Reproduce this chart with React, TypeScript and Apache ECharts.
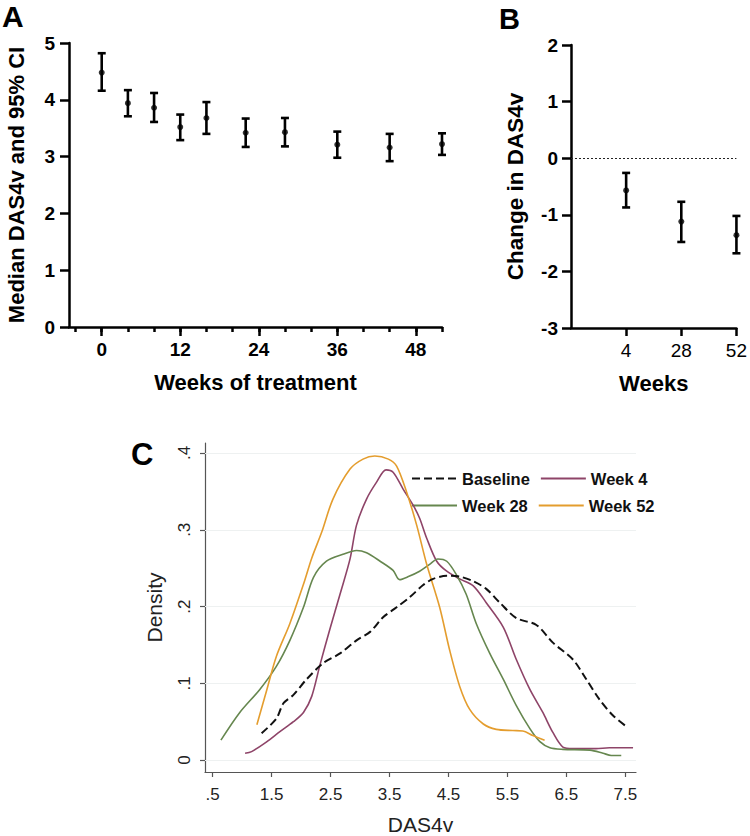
import React, { useEffect, useRef } from "react";
import * as echarts from "echarts";

// ---------- Panel A ----------
const weeksA = [0, 4, 8, 12, 16, 22, 28, 36, 44, 52];
const medianA = [4.48, 3.94, 3.86, 3.52, 3.68, 3.42, 3.43, 3.21, 3.16, 3.22];
const lowerA = [4.16, 3.71, 3.61, 3.29, 3.40, 3.17, 3.18, 2.98, 2.92, 3.03];
const upperA = [4.82, 4.17, 4.12, 3.74, 3.96, 3.67, 3.68, 3.44, 3.40, 3.41];
const minorTicksA = [-4, 0, 4, 8, 12, 16, 20, 24, 28, 32, 36, 40, 44, 48, 52];
const majorTicksA = [0, 12, 24, 36, 48];

// ---------- Panel B ----------
const weeksB = [4, 28, 52];
const changeB = [-0.57, -1.12, -1.36];
const lowerB = [-0.87, -1.48, -1.68];
const upperB = [-0.26, -0.77, -1.02];

// ---------- Panel C ----------
const ticksCx = [0.5, 1.5, 2.5, 3.5, 4.5, 5.5, 6.5, 7.5];
const ticksCy = [0, 0.1, 0.2, 0.3, 0.4];

const baselineX = [1.33, 1.58, 1.7, 1.87, 2.09, 2.37, 2.66, 2.94, 3.17, 3.39, 3.62, 3.84, 4.07, 4.24, 4.47, 4.69, 4.92, 5.14, 5.37, 5.65, 5.99, 6.27, 6.61, 6.84, 7.06, 7.29, 7.53];
const baselineY = [0.035, 0.054, 0.074, 0.085, 0.105, 0.126, 0.139, 0.156, 0.167, 0.186, 0.199, 0.212, 0.228, 0.236, 0.240, 0.239, 0.233, 0.223, 0.205, 0.185, 0.176, 0.153, 0.131, 0.105, 0.079, 0.058, 0.043];

const week4X = [1.05, 1.16, 1.42, 1.64, 1.87, 2.04, 2.18, 2.32, 2.49, 2.66, 2.83, 2.94, 3.11, 3.28, 3.44, 3.56, 3.73, 3.9, 4.01, 4.13, 4.3, 4.47, 4.69, 4.92, 5.14, 5.43, 5.65, 5.88, 6.1, 6.27, 6.44, 6.61, 7.0, 7.23, 7.63];
const week4Y = [0.009, 0.011, 0.024, 0.037, 0.050, 0.062, 0.083, 0.124, 0.171, 0.216, 0.262, 0.306, 0.340, 0.362, 0.378, 0.375, 0.353, 0.332, 0.315, 0.289, 0.259, 0.246, 0.236, 0.227, 0.205, 0.173, 0.131, 0.092, 0.062, 0.036, 0.017, 0.015, 0.015, 0.016, 0.016];

const week28X = [0.64, 0.96, 1.30, 1.58, 1.81, 2.04, 2.21, 2.43, 2.71, 2.94, 3.11, 3.34, 3.56, 3.67, 3.82, 4.01, 4.18, 4.32, 4.47, 4.63, 4.80, 4.97, 5.2, 5.43, 5.65, 5.88, 6.05, 6.22, 6.44, 6.9, 7.12, 7.26, 7.43];
const week28Y = [0.026, 0.062, 0.092, 0.122, 0.156, 0.199, 0.238, 0.259, 0.268, 0.273, 0.270, 0.259, 0.247, 0.235, 0.239, 0.246, 0.255, 0.262, 0.259, 0.242, 0.216, 0.178, 0.139, 0.105, 0.071, 0.041, 0.024, 0.016, 0.014, 0.013, 0.009, 0.006, 0.006];

const week52X = [1.25, 1.42, 1.58, 1.81, 2.04, 2.18, 2.35, 2.54, 2.83, 3.05, 3.25, 3.48, 3.62, 3.79, 3.96, 4.13, 4.35, 4.52, 4.69, 4.86, 5.09, 5.31, 5.59, 5.76, 5.93, 6.13];
const week52Y = [0.046, 0.092, 0.135, 0.178, 0.229, 0.263, 0.297, 0.340, 0.379, 0.392, 0.396, 0.392, 0.383, 0.349, 0.306, 0.255, 0.199, 0.143, 0.096, 0.066, 0.047, 0.040, 0.0385, 0.038, 0.032, 0.026];

const FONT = "Liberation Sans, Arial, Helvetica, sans-serif";

function pairs(xs: number[], ys: number[]) {
  return xs.map((x, i) => [x, ys[i]]);
}

function errRender(capHalf: number, lw: number) {
  return (params: any, api: any) => {
    const x = api.value(0);
    const lo = api.value(1);
    const hi = api.value(2);
    const pHi = api.coord([x, hi]);
    const pLo = api.coord([x, lo]);
    const style = { stroke: "#000", lineWidth: lw, fill: null };
    return {
      type: "group",
      children: [
        { type: "line", shape: { x1: pHi[0], y1: pHi[1], x2: pLo[0], y2: pLo[1] }, style },
        { type: "line", shape: { x1: pHi[0] - capHalf, y1: pHi[1], x2: pHi[0] + capHalf, y2: pHi[1] }, style },
        { type: "line", shape: { x1: pLo[0] - capHalf, y1: pLo[1], x2: pLo[0] + capHalf, y2: pLo[1] }, style },
      ],
    };
  };
}

const boldLabel = { fontFamily: FONT, fontWeight: "bold" as const, fontSize: 19, color: "#000" };
const blackLine = { color: "#000", width: 2.5 };

export default function App() {
  const ref = useRef<HTMLDivElement>(null);
  useEffect(() => {
    document.body.style.margin = "0";
    const chart = echarts.init(ref.current!, undefined, { renderer: "svg" });
    const fmtC = (v: number) => {
      const s = String(Math.round(v * 10) / 10);
      return s.startsWith("0.") ? s.slice(1) : s;
    };
    const option: any = {
      animation: false,
      backgroundColor: "#fff",
      textStyle: { fontFamily: FONT },
      grid: [
        { left: 69, top: 43, width: 373, height: 284 },
        { left: 571, top: 45, width: 170, height: 283 },
        { left: 205, top: 443, width: 431, height: 334 },
      ],
      xAxis: [
        {
          type: "value", gridIndex: 0, min: -5, max: 52, position: "bottom",
          axisLine: { show: true, onZero: false, lineStyle: blackLine },
          axisTick: { show: true, customValues: minorTicksA, length: 5, lineStyle: blackLine },
          axisLabel: { show: false },
          splitLine: { show: false },
        },
        {
          type: "value", gridIndex: 0, min: -5, max: 52, position: "bottom",
          axisLine: { show: false, onZero: false },
          axisTick: { show: true, customValues: majorTicksA, length: 9, lineStyle: blackLine },
          axisLabel: { show: true, customValues: majorTicksA, margin: 13, ...boldLabel },
          splitLine: { show: false },
          name: "Weeks of treatment", nameLocation: "middle", nameGap: 44,
          nameTextStyle: { fontFamily: FONT, fontWeight: "bold", fontSize: 22, color: "#000" },
        },
        {
          type: "value", gridIndex: 1, min: -20, max: 52, position: "bottom",
          axisLine: { show: true, onZero: false, lineStyle: blackLine },
          axisTick: { show: true, customValues: weeksB, length: 8, lineStyle: blackLine },
          axisLabel: { show: true, customValues: weeksB, margin: 13, fontFamily: FONT, fontSize: 19, color: "#000" },
          splitLine: { show: false },
          name: "Weeks", nameLocation: "middle", nameGap: 44,
          nameTextStyle: { fontFamily: FONT, fontWeight: "bold", fontSize: 22, color: "#000" },
        },
        {
          type: "value", gridIndex: 2, min: 0.37, max: 7.68, position: "bottom",
          axisLine: { show: true, onZero: false, lineStyle: { color: "#555", width: 1.2 } },
          axisTick: { show: true, customValues: ticksCx, length: 5, lineStyle: { color: "#555", width: 1.2 } },
          axisLabel: { show: true, customValues: ticksCx, margin: 14, fontFamily: FONT, fontSize: 17, color: "#222", formatter: fmtC },
          splitLine: { show: false },
          name: "DAS4v", nameLocation: "middle", nameGap: 42,
          nameTextStyle: { fontFamily: FONT, fontSize: 21, color: "#222" },
        },
      ],
      yAxis: [
        {
          type: "value", gridIndex: 0, min: 0, max: 5, interval: 1,
          axisLine: { show: true, onZero: false, lineStyle: blackLine },
          axisTick: { show: true, length: 9, lineStyle: blackLine },
          axisLabel: { show: true, margin: 14, ...boldLabel },
          splitLine: { show: false },
          name: "Median DAS4v and 95% CI", nameLocation: "middle", nameGap: 42,
          nameTextStyle: { fontFamily: FONT, fontWeight: "bold", fontSize: 22, color: "#000" },
        },
        {
          type: "value", gridIndex: 1, min: -3, max: 2, interval: 1,
          axisLine: { show: true, onZero: false, lineStyle: blackLine },
          axisTick: { show: true, length: 9, lineStyle: blackLine },
          axisLabel: { show: true, margin: 13, ...boldLabel },
          splitLine: { show: false },
          name: "Change in DAS4v", nameLocation: "middle", nameGap: 44,
          nameTextStyle: { fontFamily: FONT, fontWeight: "bold", fontSize: 22.5, color: "#000" },
        },
        {
          type: "value", gridIndex: 2, min: -0.0155, max: 0.413,
          axisLine: { show: true, onZero: false, lineStyle: { color: "#555", width: 1.2 } },
          axisTick: { show: true, customValues: ticksCy, length: 5, lineStyle: { color: "#555", width: 1.2 } },
          axisLabel: { show: true, customValues: ticksCy, rotate: 90, margin: 12, fontFamily: FONT, fontSize: 17, color: "#222", formatter: fmtC },
          splitLine: { show: false },
          name: "Density", nameLocation: "middle", nameGap: 40,
          nameTextStyle: { fontFamily: FONT, fontSize: 21, color: "#222" },
        },
      ],
      legend: {
        data: ["Baseline", "Week 4", "Week 28", "Week 52"],
        left: 406, top: 465, width: 270,
        orient: "horizontal",
        itemWidth: 45, itemHeight: 14, itemGap: 10,
        selectedMode: false,
        itemStyle: { opacity: 0, color: "transparent", borderWidth: 0 },
        textStyle: { fontFamily: FONT, fontWeight: "bold", fontSize: 16.5, color: "#111" },
      },
      graphic: [
        { type: "text", left: 2, top: 1, style: { text: "A", fontFamily: FONT, fontWeight: "bold", fontSize: 30, fill: "#000" } },
        { type: "text", left: 499, top: 4, style: { text: "B", fontFamily: FONT, fontWeight: "bold", fontSize: 29, fill: "#000" } },
        { type: "text", left: 131, top: 439, style: { text: "C", fontFamily: FONT, fontWeight: "bold", fontSize: 31, fill: "#000" } },
      ],
      series: [
        {
          type: "custom", xAxisIndex: 0, yAxisIndex: 0,
          renderItem: errRender(4, 2.6),
          encode: { x: 0, y: [1, 2] },
          data: weeksA.map((w, i) => [w, lowerA[i], upperA[i]]),
          z: 3,
        },
        {
          type: "scatter", xAxisIndex: 0, yAxisIndex: 0, symbol: "circle", symbolSize: 6,
          itemStyle: { color: "#000" },
          data: pairs(weeksA, medianA), z: 4,
        },
        {
          type: "custom", xAxisIndex: 2, yAxisIndex: 1,
          renderItem: errRender(4, 2.6),
          encode: { x: 0, y: [1, 2] },
          data: weeksB.map((w, i) => [w, lowerB[i], upperB[i]]),
          z: 3,
        },
        {
          type: "scatter", xAxisIndex: 2, yAxisIndex: 1, symbol: "circle", symbolSize: 6,
          itemStyle: { color: "#000" },
          data: pairs(weeksB, changeB), z: 4,
          markLine: {
            silent: true, symbol: "none", label: { show: false },
            lineStyle: { type: [2, 2], color: "#222", width: 1 },
            data: [{ yAxis: 0 }],
          },
        },
        {
          name: "Baseline", type: "line", xAxisIndex: 3, yAxisIndex: 2, symbol: "none", smooth: 0.3,
          lineStyle: { color: "#111", width: 2, type: [8, 4] }, itemStyle: { color: "#111" },
          data: pairs(baselineX, baselineY), z: 5,
          markLine: {
            silent: true, symbol: "none", label: { show: false },
            lineStyle: { type: "solid", color: "#eef1f1", width: 1 },
            data: ticksCy.map((v) => ({ yAxis: v })),
            z: 1,
          },
        },
        {
          name: "Week 4", type: "line", xAxisIndex: 3, yAxisIndex: 2, symbol: "none", smooth: 0.3,
          lineStyle: { color: "#8e4468", width: 1.6 }, itemStyle: { color: "#8e4468" },
          data: pairs(week4X, week4Y), z: 4,
        },
        {
          name: "Week 28", type: "line", xAxisIndex: 3, yAxisIndex: 2, symbol: "none", smooth: 0.3,
          lineStyle: { color: "#66874f", width: 1.6 }, itemStyle: { color: "#66874f" },
          data: pairs(week28X, week28Y), z: 4,
        },
        {
          name: "Week 52", type: "line", xAxisIndex: 3, yAxisIndex: 2, symbol: "none", smooth: 0.3,
          lineStyle: { color: "#e49d2e", width: 1.6 }, itemStyle: { color: "#e49d2e" },
          data: pairs(week52X, week52Y), z: 4,
        },
      ],
    };
    chart.setOption(option);
    return () => chart.dispose();
  }, []);
  return <div ref={ref} style={{ width: 750, height: 836 }} />;
}
